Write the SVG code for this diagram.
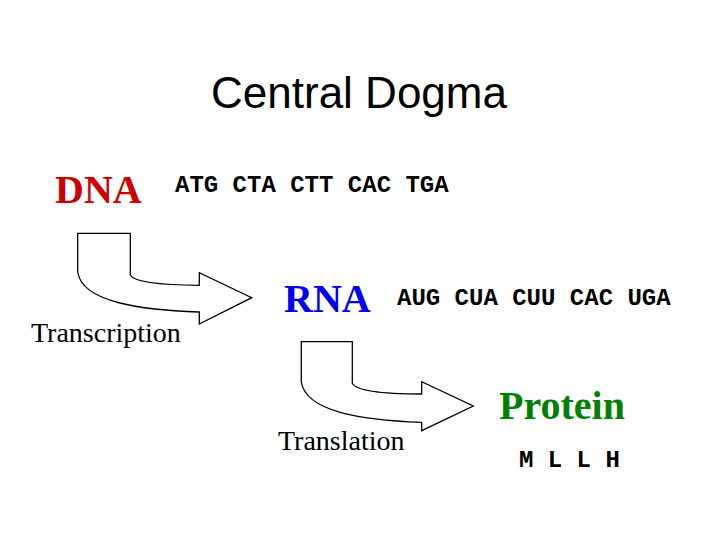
<svg xmlns="http://www.w3.org/2000/svg" width="720" height="540" viewBox="0 0 720 540">
<style>
.title{font-family:"Liberation Sans",Arial,sans-serif;font-size:44px;fill:#000}
.mol{font-family:"Liberation Serif","Times New Roman",serif;font-size:40px;font-weight:bold}
.seq{font-family:"Liberation Mono","Courier New",monospace;font-size:24px;font-weight:bold;fill:#000}
.lbl{font-family:"Liberation Serif","Times New Roman",serif;font-size:28px;fill:#000}
.arrow{fill:#fff;stroke:#000;stroke-width:1.3}
</style>
<rect width="720" height="540" fill="#fff"/>
<text class="title" x="359" y="108" text-anchor="middle">Central Dogma</text>
<g id="dna">
<text class="mol" x="55" y="203" fill="#CC0000">DNA</text>
<text class="seq" x="175" y="192">ATG CTA CTT CAC TGA</text>
</g>
<g id="rna">
<text class="mol" x="284" y="312" fill="#0000EE">RNA</text>
<text class="seq" x="397" y="305">AUG CUA CUU CAC UGA</text>
</g>
<g id="protein">
<text class="mol" x="499" y="419" fill="#008000">Protein</text>
<text class="seq" x="519" y="467">M L L H</text>
</g>
<g id="connectors">
<g id="transcription">
<path class="arrow" d="M77.7,233.3 H130.3 V275 C134,282 160,285 199.3,285.3 V272.7 L251.7,297.7 L199.3,324 V312 C140,310 82,302 77.7,272 Z"/>
<text class="lbl" x="31" y="342">Transcription</text>
</g>
<g id="translation">
<path class="arrow" d="M301.3,341.7 H352.3 V383.3 C356,391 382,394 421.7,394 V381.7 L473.3,406 L421.7,430.7 V422.3 C362,420 306,412 301.3,382 Z"/>
<text class="lbl" x="278" y="450">Translation</text>
</g>
</g>
</svg>
